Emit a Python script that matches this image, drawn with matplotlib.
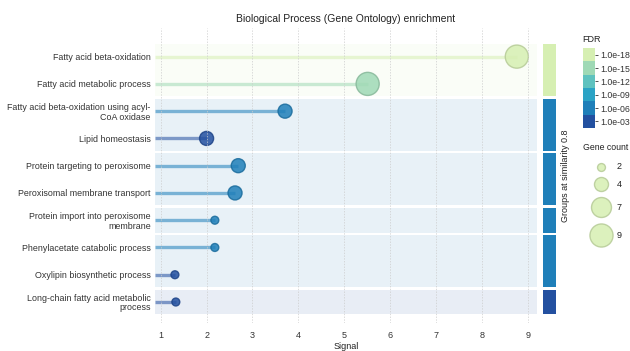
import numpy as np
import matplotlib
matplotlib.use("Agg")
import matplotlib.pyplot as plt
from matplotlib.colors import ListedColormap, BoundaryNorm
from matplotlib.cm import ScalarMappable

plt.rcParams['font.family'] = ['Liberation Sans', 'DejaVu Sans']

terms = [
    "Fatty acid beta-oxidation",
    "Fatty acid metabolic process",
    "Fatty acid beta-oxidation using acyl-\nCoA oxidase",
    "Lipid homeostasis",
    "Protein targeting to peroxisome",
    "Peroxisomal membrane transport",
    "Protein import into peroxisome\nmembrane",
    "Phenylacetate catabolic process",
    "Oxylipin biosynthetic process",
    "Long-chain fatty acid metabolic\nprocess",
]
signal = [8.76, 5.51, 3.71, 2.00, 2.69, 2.62, 2.18, 2.18, 1.31, 1.33]
gene_count = [9, 9, 4, 4, 4, 4, 2, 2, 2, 2]
fdr = [2e-18, 3e-15, 4e-06, 2e-03, 3e-06, 3e-06, 2e-05, 2e-05, 3e-03, 3e-03]
group = [0, 0, 1, 1, 2, 2, 3, 4, 4, 5]

# -log10(FDR) bins, dark (weak) -> light (strong)
fdr_colors = ['#2350a0', '#1f7fb9', '#2ba3c5', '#5fc2bf', '#9fd9b5', '#d6efb2']
fdr_ticks = [3, 6, 9, 12, 15, 18]
size_ticks = [2, 4, 7, 9]


def radius_px(n):
    return np.sqrt(16.8 * np.asarray(n, dtype=float) - 18)


def marker_size(n):
    return (2 * radius_px(n) * 0.72) ** 2


W, H = 630, 351
fig = plt.figure(figsize=(W / 100, H / 100), dpi=100)
ax = fig.add_axes([155 / W, 1 - 323 / H, 382 / W, 295 / H])
strip = fig.add_axes([543 / W, 1 - 323 / H, 13 / W, 295 / H], sharey=ax)

cmap = ListedColormap(fdr_colors)
norm = BoundaryNorm(np.arange(1.5, 21, 3), cmap.N)
neglog = -np.log10(fdr)
colors = cmap(norm(neglog))
edges = colors.copy()
edges[:, :3] *= 0.85

y = np.arange(len(terms))
x0 = 0.876
ax.set_xlim(x0, 9.2)
ax.set_ylim(9.77, -1.05)

# group bands + side strip
group = np.array(group)
gap = 0.045
for g in np.unique(group):
    rows = y[group == g]
    lo, hi = rows.min() - 0.5 + gap, rows.max() + 0.5 - gap
    c = cmap(norm(neglog[rows].max()))
    ax.axhspan(lo, hi, color=c, alpha=0.1, lw=0, zorder=0)
    strip.axhspan(lo, hi, color=c, lw=0)

ax.hlines(y, x0, signal, colors=colors, alpha=0.55, lw=2.4, zorder=1.5)
ax.scatter(signal, y, s=marker_size(gene_count), c=colors, edgecolors=edges,
           linewidths=1.0, alpha=0.85, zorder=2)

ax.set_xticks(range(1, 10))
ax.set_yticks(y)
ax.set_yticklabels(terms, fontsize=6.4)
for lbl in ax.get_yticklabels():
    lbl.set_linespacing(1.05)
ax.grid(axis='x', color='#cccccc', lw=0.5, ls=(0, (2, 2)))
ax.grid(axis='y', visible=False)
ax.set_axisbelow(False)
ax.tick_params(axis='both', length=0, colors='#333333')
ax.tick_params(axis='x', labelsize=6.5, pad=6)
ax.tick_params(axis='y', pad=3)
for s in ax.spines.values():
    s.set_visible(False)
ax.set_title('Biological Process (Gene Ontology) enrichment', fontsize=7.5,
             pad=4, color='#222222')
ax.set_xlabel('Signal', fontsize=6.5, labelpad=1, color='#222222')

strip.set_xticks([])
strip.tick_params(left=False, labelleft=False)
for s in strip.spines.values():
    s.set_visible(False)
strip.yaxis.set_label_position('right')
strip.set_ylabel('Groups at similarity 0.8', fontsize=6.5, labelpad=3.5,
                 color='#222222')

# FDR colorbar
cax = fig.add_axes([583 / W, 1 - 128 / H, 12 / W, 80 / H])
cb = fig.colorbar(ScalarMappable(norm=norm, cmap=cmap), cax=cax, ticks=fdr_ticks)
cb.minorticks_off()
cb.ax.set_yticklabels([f'1.0e-{t:02d}' for t in fdr_ticks])
cb.outline.set_visible(False)
cax.tick_params(length=2.5, width=0.6, labelsize=6.3, pad=1, colors='#333333')
fig.text(582 / W, 1 - 39 / H, 'FDR', fontsize=6.5, va='center', ha='left',
         color='#222222')

# gene count legend
fig.text(583 / W, 1 - 148 / H, 'Gene count', fontsize=6.3, va='center',
         ha='left', color='#222222')
lax = fig.add_axes([570 / W, 1 - 260 / H, 60 / W, 120 / H])
lax.set_xlim(570, 630)
lax.set_ylim(260, 140)
lax.axis('off')
leg_face = cmap(norm(18))
leg_edge = tuple(v * 0.85 for v in leg_face[:3])
yc = 166.7
radii = radius_px(size_ticks)
for i, n in enumerate(size_ticks):
    lax.scatter([600.5], [yc], s=marker_size(n), color=leg_face,
                edgecolors=[leg_edge], linewidths=1.0, alpha=0.85, clip_on=False)
    lax.text(617, yc, str(n), fontsize=6.5, va='center', ha='left',
             color='#222222')
    if i + 1 < len(size_ticks):
        yc += radii[i] + radii[i + 1] + 6.4

fig.savefig('out.png', dpi=100)
